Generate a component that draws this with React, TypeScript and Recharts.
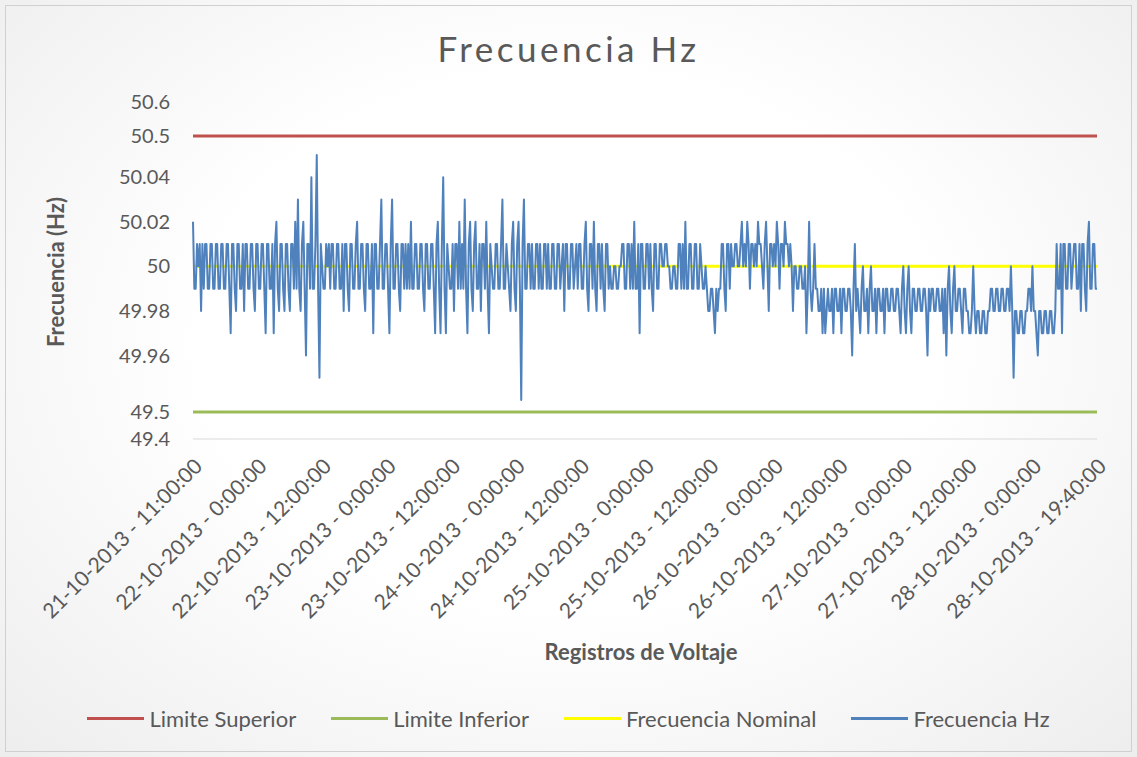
import { LineChart, Line, XAxis, YAxis } from 'recharts';

// etiquetas del eje de registros (una cada 48 registros)
const etiquetasRegistro = [
  '21-10-2013 - 11:00:00',
  '22-10-2013 - 0:00:00',
  '22-10-2013 - 12:00:00',
  '23-10-2013 - 0:00:00',
  '23-10-2013 - 12:00:00',
  '24-10-2013 - 0:00:00',
  '24-10-2013 - 12:00:00',
  '25-10-2013 - 0:00:00',
  '25-10-2013 - 12:00:00',
  '26-10-2013 - 0:00:00',
  '26-10-2013 - 12:00:00',
  '27-10-2013 - 0:00:00',
  '27-10-2013 - 12:00:00',
  '28-10-2013 - 0:00:00',
  '28-10-2013 - 19:40:00',
];
const REGISTROS_POR_ETIQUETA = 48;

const marcasFrecuencia = [49.4, 49.5, 49.96, 49.98, 50, 50.02, 50.04, 50.5, 50.6];

const limiteSuperior = 50.5;
const limiteInferior = 49.5;
const frecuenciaNominal = 50;

// Frecuencia Hz (20 registros por fila)
const frecuenciaHz = [
  50.02, 49.99, 49.99, 50.01, 50, 50.01, 49.98, 50.01, 49.99, 50.01, 50.01, 49.99, 49.99, 50.01, 50.01, 49.99, 49.99, 50.01, 50.01, 49.99,
  49.99, 50.01, 50.01, 49.99, 49.99, 50.01, 50.01, 49.99, 49.97, 50.01, 50.01, 49.99, 49.98, 50.01, 50.01, 49.99, 49.99, 50.01, 49.98, 50.01,
  50.01, 49.99, 49.99, 50.01, 50.01, 49.99, 49.98, 50.01, 50.01, 49.99, 49.99, 50.01, 50.01, 49.99, 49.97, 50.01, 50.01, 49.99, 49.99, 50.01,
  49.97, 50.01, 50.02, 49.99, 49.98, 50.01, 50.01, 49.99, 49.98, 50.01, 50.01, 49.99, 49.98, 50.01, 50.01, 49.99, 50.02, 49.99, 50.03, 49.99,
  49.98, 50.01, 50.02, 49.99, 49.96, 50.01, 50.01, 49.99, 50.04, 49.99, 49.99, 50.01, 50.05, 49.99, 49.95, 50.01, 50, 49.99, 49.99, 50.01,
  50, 50.01, 49.99, 50.01, 50.01, 49.99, 49.99, 50.01, 50.01, 49.99, 49.99, 50.01, 49.98, 50.01, 50.01, 49.99, 49.98, 50.01, 50.01, 49.99,
  49.99, 50.01, 50.02, 49.99, 49.99, 50.01, 50.01, 49.99, 49.98, 50.01, 50.01, 49.99, 49.99, 50.01, 49.97, 50.01, 50.01, 49.99, 49.99, 50.01,
  50.03, 49.99, 49.99, 50.01, 50.01, 49.99, 49.97, 50.01, 50.03, 49.99, 49.99, 50.01, 50.01, 49.99, 49.98, 50.01, 50.01, 49.99, 50.01, 49.99,
  50.01, 49.99, 50.02, 49.99, 49.99, 50.01, 50.01, 49.99, 49.99, 50.01, 50.01, 49.99, 49.98, 50.01, 50.01, 49.99, 49.99, 50.01, 50.01, 49.99,
  49.97, 50.01, 50.02, 49.99, 49.97, 50.01, 50.04, 49.99, 49.97, 50.01, 50, 49.99, 49.99, 50.01, 49.98, 50.01, 50.01, 49.99, 50.02, 49.99,
  50.01, 49.99, 50.03, 49.99, 49.97, 50.01, 50.02, 49.99, 49.98, 50.01, 50.02, 49.99, 49.99, 50.01, 49.98, 50.01, 50.01, 49.99, 50.02, 49.99,
  49.97, 50.01, 50, 49.99, 49.99, 50.01, 50.01, 49.99, 49.99, 50.01, 50.03, 49.99, 49.99, 50.01, 50, 49.99, 49.98, 50.01, 50.02, 49.99,
  49.98, 50.01, 50.02, 49.99, 49.94, 50.01, 50.03, 49.99, 49.99, 50.01, 50.01, 49.99, 50.01, 49.99, 49.99, 50.01, 50.01, 49.99, 50.01, 49.99,
  49.99, 50.01, 50.01, 49.99, 50.01, 49.99, 49.99, 50.01, 50.01, 49.99, 49.99, 50.01, 50.01, 49.99, 50, 50.01, 49.98, 50.01, 50.01, 49.99,
  49.99, 50.01, 50.01, 49.99, 50, 50.01, 49.99, 50.01, 50.01, 49.99, 49.99, 50.01, 50.02, 49.99, 49.98, 50.01, 50.01, 49.99, 50.02, 49.99,
  49.98, 50.01, 50.01, 49.99, 50.01, 49.99, 49.98, 50.01, 50.01, 49.99, 50, 49.99, 49.99, 50, 50, 49.99, 49.99, 50, 50, 50.01,
  50.01, 49.99, 49.99, 50.01, 50.01, 49.99, 50.01, 49.99, 50.02, 49.99, 49.99, 50.01, 49.97, 50.01, 50.01, 49.99, 49.99, 50.01, 50.01, 49.99,
  50.01, 49.99, 49.98, 50.01, 50.01, 49.99, 49.99, 50.01, 50.01, 50, 50, 50.01, 50.01, 50, 50, 49.99, 49.99, 50, 50, 49.99,
  49.99, 50.01, 50.01, 49.99, 50.01, 49.99, 50.02, 49.99, 49.99, 50.01, 50.01, 49.99, 49.99, 50.01, 50.01, 49.99, 49.99, 50.01, 50, 49.99,
  49.99, 50, 49.99, 49.98, 49.98, 49.99, 49.99, 49.98, 49.97, 49.99, 49.98, 49.99, 49.99, 50.01, 50.01, 49.99, 49.98, 50.01, 50.01, 49.99,
  50.01, 50, 50, 50.01, 50.01, 50, 50, 50.01, 50.02, 50, 50.01, 50, 50.02, 50.01, 49.99, 50.01, 50.01, 50, 50.01, 50,
  50.02, 50.01, 50.01, 50, 49.99, 50.01, 50.02, 50, 49.98, 50.01, 50.01, 50, 50.01, 50, 50.02, 50.01, 49.99, 50.01, 50.01, 50,
  50.02, 50.01, 50.01, 50, 50.01, 50, 49.98, 50, 50, 49.99, 49.99, 50, 50, 49.99, 49.99, 50, 49.97, 49.99, 50.02, 49.99,
  49.98, 49.99, 50.01, 49.99, 49.99, 49.98, 49.98, 49.99, 49.97, 49.99, 49.97, 49.98, 49.99, 49.98, 49.98, 49.99, 49.97, 49.99, 49.99, 49.98,
  49.98, 49.99, 49.97, 49.99, 49.99, 49.98, 49.98, 49.99, 49.99, 49.98, 49.96, 49.99, 50.01, 49.98, 49.99, 49.98, 49.97, 49.99, 50, 49.98,
  49.98, 49.99, 49.97, 49.99, 50, 49.98, 49.98, 49.99, 49.97, 49.99, 49.99, 49.98, 49.98, 49.99, 49.97, 49.99, 49.99, 49.98, 49.98, 49.99,
  49.99, 49.98, 49.98, 49.99, 49.99, 49.98, 49.97, 49.99, 50, 49.98, 49.97, 49.99, 50, 49.98, 49.97, 49.99, 49.99, 49.98, 49.98, 49.99,
  49.99, 49.98, 49.98, 49.99, 49.99, 49.98, 49.96, 49.99, 49.98, 49.99, 49.99, 49.98, 49.98, 49.99, 49.99, 49.98, 49.98, 49.99, 49.97, 49.99,
  49.96, 49.99, 50, 49.98, 49.97, 49.99, 50, 49.98, 49.98, 49.99, 49.99, 49.98, 49.97, 49.99, 49.99, 49.98, 49.98, 49.97, 49.97, 49.98,
  50, 49.98, 49.97, 49.98, 49.98, 49.97, 49.97, 49.98, 49.98, 49.97, 49.97, 49.98, 49.98, 49.99, 49.99, 49.98, 49.98, 49.99, 49.99, 49.98,
  49.98, 49.99, 49.99, 49.98, 49.98, 49.99, 49.99, 49.98, 50, 49.98, 49.95, 49.98, 49.98, 49.97, 49.97, 49.98, 49.98, 49.97, 49.97, 49.98,
  49.98, 49.99, 49.99, 49.98, 50, 49.98, 49.98, 49.97, 49.96, 49.98, 49.98, 49.97, 49.97, 49.98, 49.98, 49.97, 49.97, 49.98, 49.98, 49.97,
  49.97, 49.98, 50.01, 49.99, 49.99, 50.01, 49.97, 50.01, 50.01, 49.99, 49.99, 50.01, 50.01, 49.99, 50, 50.01, 50.01, 49.99, 49.99, 50.01,
  49.98, 50.01, 50.01, 49.99, 49.98, 50.01, 50.02, 49.99, 49.99, 50.01, 50.01, 49.99, 49.99,
];

// El eje vertical del original está "roto": la banda 49.94-50.05 va estirada
// y los límites quedan comprimidos arriba y abajo. Tramos [Hz, altura].
const TRAMOS_EJE: [number, number][] = [
  [49.4, 0],
  [49.5, 27],
  [49.94, 39],
  [50.05, 284],
  [50.5, 303],
  [50.6, 337],
];

const aEje = (v: number) => {
  for (let k = 1; k < TRAMOS_EJE.length; k++) {
    const [h0, e0] = TRAMOS_EJE[k - 1];
    const [h1, e1] = TRAMOS_EJE[k];
    if (v <= h1 || k === TRAMOS_EJE.length - 1) {
      return e0 + ((v - h0) / (h1 - h0)) * (e1 - e0);
    }
  }
  return 0;
};

const GRIS = '#595959';
const FUENTE = 'Lato, "Open Sans", sans-serif';

const SERIES = [
  { key: 'superior', nombre: 'Limite Superior', color: '#C0504D', ancho: 3 },
  { key: 'inferior', nombre: 'Limite Inferior', color: '#9BBB59', ancho: 3 },
  { key: 'nominal', nombre: 'Frecuencia Nominal', color: '#FFFF00', ancho: 3 },
  { key: 'frecuencia', nombre: 'Frecuencia Hz', color: '#4F81BD', ancho: 2 },
];

const App = () => {
  const datos = frecuenciaHz.map((v, i) => ({
    registro: i,
    superior: aEje(limiteSuperior),
    inferior: aEje(limiteInferior),
    nominal: aEje(frecuenciaNominal),
    frecuencia: aEje(v),
  }));

  const ultimo = frecuenciaHz.length - 1;
  const marcasX = etiquetasRegistro.map((_, k) => Math.min(k * REGISTROS_POR_ETIQUETA, ultimo));
  const marcasY = marcasFrecuencia.map(aEje);

  const formatoX = (v: number) => etiquetasRegistro[Math.round(v / REGISTROS_POR_ETIQUETA)] ?? '';
  const formatoY = (v: number) => {
    let mejor = 0;
    marcasY.forEach((m, k) => {
      if (Math.abs(m - v) < Math.abs(marcasY[mejor] - v)) mejor = k;
    });
    return String(marcasFrecuencia[mejor]);
  };

  return (
    <div
      style={{
        position: 'absolute',
        left: 0,
        top: 0,
        width: 1137,
        height: 757,
        fontFamily: FUENTE,
        background: 'radial-gradient(ellipse at 50% 45%, #ffffff 45%, #ededed 100%)',
        overflow: 'hidden',
      }}
    >
      <div
        style={{
          position: 'absolute',
          left: 5,
          top: 5,
          width: 1125,
          height: 745,
          border: '1px solid #d0d0d0',
        }}
      />
      <div
        style={{
          position: 'absolute',
          top: 27,
          width: '100%',
          textAlign: 'center',
          fontSize: 35,
          letterSpacing: 3.5,
          color: GRIS,
          fontWeight: 400,
        }}
      >
        Frecuencia Hz
      </div>
      <div
        style={{
          position: 'absolute',
          left: 55,
          top: 272,
          transform: 'translate(-50%, -50%) rotate(-90deg)',
          fontSize: 22,
          fontWeight: 700,
          color: GRIS,
          whiteSpace: 'nowrap',
        }}
      >
        Frecuencia (Hz)
      </div>
      <div
        style={{
          position: 'absolute',
          left: 641,
          top: 651,
          transform: 'translate(-50%, -50%)',
          fontSize: 22,
          fontWeight: 700,
          color: GRIS,
          whiteSpace: 'nowrap',
        }}
      >
        Registros de Voltaje
      </div>

      <div style={{ position: 'absolute', left: 0, top: 0 }}>
        <LineChart
          width={1137}
          height={757}
          data={datos}
          margin={{ top: 102, right: 40, bottom: 258, left: 133 }}
        >
          <XAxis
            dataKey="registro"
            type="number"
            domain={[0, ultimo]}
            ticks={marcasX}
            interval={0}
            tickFormatter={formatoX}
            height={60}
            tickLine={false}
            axisLine={{ stroke: '#d9d9d9', strokeWidth: 1 }}
            angle={-45}
            textAnchor="end"
            tickMargin={12}
            tick={{ fill: GRIS, fontSize: 21, fontFamily: FUENTE }}
          />
          <YAxis
            type="number"
            domain={[0, aEje(50.6)]}
            ticks={marcasY}
            interval={0}
            tickFormatter={formatoY}
            width={60}
            tickLine={false}
            axisLine={false}
            tickMargin={17}
            tick={{ fill: GRIS, fontSize: 20, fontFamily: FUENTE }}
          />
          {SERIES.map((s) => (
            <Line
              key={s.key}
              dataKey={s.key}
              name={s.nombre}
              stroke={s.color}
              strokeWidth={s.ancho}
              dot={false}
              activeDot={false}
              isAnimationActive={false}
              strokeLinejoin="round"
            />
          ))}
        </LineChart>
      </div>

      <div
        style={{
          position: 'absolute',
          top: 705,
          left: 0,
          width: '100%',
          display: 'flex',
          justifyContent: 'center',
          gap: 35,
          fontSize: 22,
          color: GRIS,
        }}
      >
        {SERIES.map((s) => (
          <div key={s.key} style={{ display: 'flex', alignItems: 'center', gap: 5 }}>
            <span style={{ display: 'inline-block', width: 57, height: 3, background: s.color }} />
            <span>{s.nombre}</span>
          </div>
        ))}
      </div>
    </div>
  );
};

export default App;
